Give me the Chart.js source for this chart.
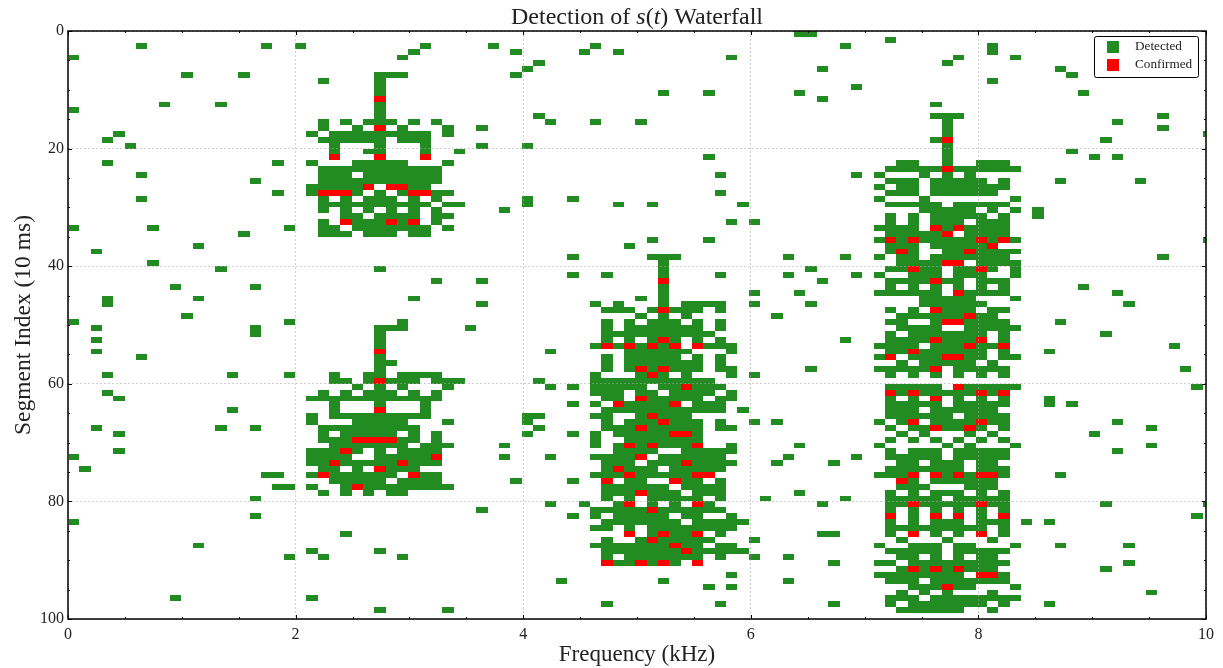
<!DOCTYPE html>
<html>
<head>
<meta charset="utf-8">
<title>Detection of s(t) Waterfall</title>
<script src="https://cdn.jsdelivr.net/npm/chart.js@4/dist/chart.umd.min.js"></script>
<style>
    html, body { margin: 0; padding: 0; background: #fff; }
    canvas { display: block; }
</style>
</head>
<body>
<canvas id="waterfall" width="1223" height="668"></canvas>
<script>
// frequency bin width in kHz
const binWidth = 0.0997;

const xTicks = [0, 2, 4, 6, 8, 10];
const xMinorTicks = [0.5, 1, 1.5, 2.5, 3, 3.5, 4.5, 5, 5.5, 6.5, 7, 7.5, 8.5, 9, 9.5];
const yTicks = [0, 20, 40, 60, 80, 100];
const yMinorTicks = [5, 10, 15, 25, 30, 35, 45, 50, 55, 65, 70, 75, 85, 90, 95];

// one line per segment, a number is one bin and [a, b] is a run of bins
const detectedRows = [
    [64, 65],
    [72],
    [6, 17, 20, 31, 37, 46, 68, 81],
    [30, 39, 45, 48, 81],
    [0, 29, 58, 78, 83],
    [41, 77],
    [40, 66, 87],
    [10, 15, [27, 29], 39, 88],
    [22, 27, 81],
    [27, 69],
    [27, 52, 56, 64, 89],
    [66],
    [8, 13, 27, 76],
    [0, 27],
    [27, 41, [76, 78], 96],
    [22, 24, [26, 28], 30, 32, 42, 46, 50, 77, 92],
    [22, 25, 29, 33, 36, 77, 96],
    [4, 21, [23, 31], 33, 77, 100],
    [3, [22, 27], [29, 31], 76, 91],
    [5, 23, 27, 31, 36, 40, 77],
    [23, [26, 27], 31, 34, 77, 88],
    [56, 77, 90, 92],
    [3, 18, 21, [25, 29], 33, [73, 74], 77, [80, 82]],
    [[22, 32], [72, 76], [78, 83]],
    [6, [22, 24], [26, 32], 57, 69, 71, 75, 77, 79],
    [16, [22, 32], [72, 74], [76, 80], 82, 87, 94],
    [[21, 25], [30, 31], 71, [73, 74], [76, 82]],
    [18, 21, 25, 27, 29, [32, 33], 57, [72, 74], [76, 81]],
    [6, 22, 24, [26, 28], 30, 32, 40, 44, 71, 75, 83],
    [[22, 31], [33, 34], 40, 48, 51, 59, [72, 76], [78, 82]],
    [22, 24, 26, 28, 30, 32, 38, [75, 79], 81, 83, 85],
    [[24, 25], [27, 30], [32, 33], 72, 74, [76, 80], 82, 85],
    [22, [25, 27], 29, 32, 58, 60, 72, 74, [76, 78], [80, 82]],
    [0, 7, 19, [22, 23], [25, 31], 33, [71, 74], 77, [79, 82]],
    [15, [22, 24], [26, 28], [30, 31], [72, 76], [79, 82]],
    [51, 56, 71, 73, [75, 79], 81, 83, 100],
    [11, 49, [72, 74], [76, 80]],
    [2, 72, 74, [77, 78], [80, 83]],
    [44, [51, 53], 63, 68, 71, [73, 74], [76, 82], 96],
    [7, 52, [73, 76], [80, 83]],
    [13, 27, 52, 65, [72, 73], [75, 76], [78, 79], 81, 83],
    [44, 47, 52, 57, 63, 69, 71, [74, 76], [78, 80], 83],
    [32, 36, 66, [72, 75], [77, 78], [80, 82]],
    [9, 16, 52, 72, 74, 76, 78, 80, 82, 89],
    [52, 60, 64, [71, 76], [79, 82], 92],
    [3, 11, 30, 50, 52, [75, 79], 83],
    [3, 36, 46, 48, 52, [54, 57], 60, 65, [75, 80], 93],
    [[47, 49], 51, [53, 55], 57, 72, 74, [77, 79], [81, 82]],
    [10, 50, 52, 54, 62, [73, 78], [80, 81]],
    [0, 19, 29, 47, 49, [51, 53], 55, 57, [72, 73], 76, [79, 82], 87],
    [2, 16, [27, 29], 35, 47, [49, 55], 57, [73, 76], [79, 83]],
    [16, 27, [47, 56], 72, [74, 80], 82, 91],
    [2, 27, 47, 49, 51, 53, 55, 57, 68, [72, 75], [77, 79], 82],
    [27, 46, 48, 50, 52, [56, 58], [71, 74], [76, 78], [80, 81], 97],
    [2, 42, [49, 54], 58, [72, 73], [75, 80], 82, 86],
    [6, 27, 47, [49, 53], 55, 57, 71, [74, 76], [79, 80], [82, 83]],
    [[27, 28], 47, [49, 55], 57, 73, [75, 79], 81],
    [27, 47, 49, 51, [53, 55], [57, 58], 65, [71, 75], [78, 82], 98],
    [3, 14, 19, 23, [26, 27], [29, 32], 46, 50, 52, 54, 58, 60, 72, 74, 76, 78, 80, 82],
    [[23, 24], 26, [28, 30], [32, 34], 41, [46, 56]],
    [25, 27, 29, 33, 42, 44, [46, 50], [52, 53], [55, 57], [72, 76], [79, 83], 99],
    [3, 22, 24, [26, 28], 30, 32, [46, 48], [50, 51], [53, 56], 58, 73, [75, 79], 81],
    [4, [21, 32], [47, 48], [51, 55], [57, 58], 72, 74, 78, 80, 82, 86],
    [23, 27, 31, 44, 46, [49, 52], [55, 57], [72, 76], [78, 82], 86, 88],
    [14, 23, 31, [47, 57], 59, [72, 74], [76, 81]],
    [21, [23, 31], [40, 41], [46, 47], 50, [52, 54], [72, 77], [79, 82]],
    [21, [25, 29], 33, 40, 47, [49, 51], [53, 55], 57, 60, 62, 71, 73, [76, 79], [81, 82], 92],
    [2, 13, 16, [22, 30], 41, [47, 49], [51, 55], [57, 58], 72, [74, 75], [77, 78], 80, 82, 95],
    [4, 22, [24, 28], 30, 32, 40, 44, 46, [48, 52], 55, 73, 75, 79, 81, 90],
    [[22, 24], [29, 30], 32, 46, [49, 55], 72, 74, 76, 78, 80, 82],
    [[23, 29], [31, 33], 38, 46, 48, 50, [52, 54], 58, 64, 71, 77, 79, 83, 95],
    [4, [21, 23], 25, 27, [29, 32], [48, 51], [54, 58], 72, [74, 76], [78, 82], 92],
    [0, [21, 24], [27, 31], 38, 42, [46, 49], [52, 57], 63, 69, [72, 76], [78, 82]],
    [[21, 22], [24, 28], [30, 32], [47, 49], [51, 53], [55, 58], 62, 67, [73, 74], [76, 78], [80, 81]],
    [1, [22, 23], 25, [28, 30], 47, [49, 51], [53, 57], [72, 78], [80, 82]],
    [[17, 18], 21, [23, 28], [31, 32], [46, 48], [50, 54], [71, 73], 77, 79, 82, 87],
    [[23, 27], [29, 32], 39, 44, [49, 50], [54, 55], 57, 74, [76, 81]],
    [[18, 19], 21, 24, [26, 33], [47, 52], [54, 57], [73, 75], [79, 81]],
    [22, 24, 26, [28, 29], [47, 49], [51, 53], [55, 57], 64, 72, 74, [76, 78], 80, 82],
    [16, 47, 49, [51, 55], 57, 61, 68, [72, 76], [78, 82]],
    [42, 45, 48, 51, 53, 56, 66, [72, 73], [75, 79], [81, 82], 91, 100],
    [36, [46, 50], [52, 57], 72, 74, 76, 78, 80, 82],
    [16, 44, 46, [48, 52], [54, 55], 58, 74, 80, 99],
    [0, [47, 53], [55, 59], 72, 74, [76, 78], [80, 82], 84, 86],
    [[46, 47], 49, [51, 58], [72, 80], 82],
    [24, 51, [53, 54], 57, [66, 67], 72, 76, 78, 82],
    [47, 50, [52, 56], 60, 73, 77, 81],
    [11, [46, 52], [54, 55], [57, 58], 71, [74, 76], [78, 79], 83, 87, 93],
    [21, 27, [47, 53], [55, 59], [72, 76], [78, 82]],
    [19, 22, 29, 47, [49, 55], 57, 60, 63, [73, 74], 76, 78, [80, 81]],
    [[48, 49], 51, 53, 67, [71, 72], [74, 82], 93],
    [73, 75, 77, [79, 81], 91],
    [58, [71, 78], 82],
    [43, 52, 63, [72, 74], [76, 82]],
    [56, 58, [74, 76], [78, 79], 83],
    [73, 75, 77, 81, 95],
    [9, 21, [72, 74], [76, 83]],
    [47, 57, 67, 72, [74, 80], 82, 86],
    [27, 33, [73, 78], 81],
    []
];

// [segment, bins]
const confirmedRows = [
    [11, [27]], [16, [27]], [18, [77]], [21, [23, 27, 31]], [23, [77]],
    [26, [26, 28, 29]], [27, [22, 23, 24, 30, 31]], [32, [24, 28, 30]],
    [33, [76, 78]], [34, [77]], [35, [72, 74, 80, 82]], [36, [81]],
    [37, [73, 79]], [39, [77, 78]], [40, [74, 80]], [42, [52, 76]],
    [44, [78]], [47, [52, 76]], [48, [79]], [49, [77, 78]],
    [52, [52, 76, 80]], [53, [47, 49, 51, 53, 55, 79, 82]], [54, [27, 74]],
    [55, [72, 77, 78]], [57, [50, 52, 76]], [58, [51]], [59, [27]],
    [60, [54, 78]], [61, [72, 74, 80, 82]], [62, [50, 76]], [63, [48, 53]],
    [64, [27]], [65, [51]], [66, [52, 74, 80]], [67, [50, 76, 79]],
    [68, [53, 54]], [69, [25, 26, 27, 28]], [70, [49, 51, 55]], [71, [24]],
    [72, [32, 50]], [73, [23, 29, 54]], [74, [27, 48]],
    [75, [22, 30, 49, 55, 56, 74, 76, 78, 80, 81]], [76, [47, 53, 73]],
    [77, [25]], [78, [50]], [80, [49, 55, 74, 80]], [81, [51]],
    [82, [72, 76, 78, 82]], [85, [49, 52, 55, 74, 80]], [86, [51]], [87, [53]],
    [88, [54]], [90, [47, 50, 52, 55]], [91, [74, 76, 78]], [92, [80, 81]], [94, [77]]
];

const serif = '"Liberation Serif", serif';

const toBars = (row, bins) => bins.map((b) => {
    const first = Array.isArray(b) ? b[0] : b;
    const last = Array.isArray(b) ? b[1] : b;
    return { y: row + 0.5, x: [first * binWidth, (last + 1) * binWidth] };
});

const detectedBars = detectedRows.flatMap((bins, row) => toBars(row, bins));
const confirmedBars = confirmedRows.flatMap(([row, bins]) => toBars(row, bins));

// the reference is a nearest-pixel image, so put the bar edges on whole pixels
const snapBars = {
    id: 'snapBars',
    afterDatasetsUpdate(chart) {
        chart.data.datasets.forEach((ds, i) => {
            for (const bar of chart.getDatasetMeta(i).data) {
                const top = Math.round(bar.y - bar.height / 2);
                const bottom = Math.round(bar.y + bar.height / 2);
                bar.y = (top + bottom) / 2;
                bar.height = bottom - top;
                bar.x = Math.round(bar.x);
                bar.base = Math.round(bar.base);
            }
        });
    }
};

// inward ticks on all four sides, frame, legend box and title
const decorations = {
    id: 'decorations',
    afterDraw(chart) {
        const { ctx, chartArea: area, scales: { x, y } } = chart;
        ctx.save();
        ctx.strokeStyle = '#000';
        ctx.lineWidth = 1;
        const line = (x0, y0, x1, y1) => {
            ctx.beginPath();
            ctx.moveTo(x0, y0);
            ctx.lineTo(x1, y1);
            ctx.stroke();
        };
        const ticksX = (values, len) => values.forEach((v) => {
            const px = Math.round(x.getPixelForValue(v)) + 0.5;
            line(px, area.bottom, px, area.bottom - len);
            line(px, area.top, px, area.top + len);
        });
        const ticksY = (values, len) => values.forEach((v) => {
            const py = Math.round(y.getPixelForValue(v)) + 0.5;
            line(area.left, py, area.left + len, py);
            line(area.right, py, area.right - len, py);
        });
        ticksX(xTicks, 4);
        ticksX(xMinorTicks, 2);
        ticksY(yTicks, 4);
        ticksY(yMinorTicks, 2);

        ctx.lineWidth = 1.5;
        ctx.strokeRect(area.left, area.top, area.right - area.left, area.bottom - area.top);

        // legend
        ctx.lineWidth = 1;
        ctx.fillStyle = '#fff';
        ctx.beginPath();
        ctx.roundRect(1094.5, 36.5, 104, 41, 2);
        ctx.fill();
        ctx.stroke();
        ctx.font = '13.2px ' + serif;
        ctx.textBaseline = 'middle';
        chart.data.datasets.forEach((ds, i) => {
            const rowY = 47 + i * 18;
            ctx.fillStyle = ds.backgroundColor;
            ctx.fillRect(1107, rowY - 6, 12, 12);
            ctx.fillStyle = '#222';
            ctx.fillText(ds.label, 1135, rowY);
        });

        // title, s and t are math italics
        const parts = [['Detection of ', ''], ['s', 'italic '], ['(', ''], ['t', 'italic '], [') Waterfall', '']];
        const titleFont = (style) => style + '24px ' + serif;
        let width = 0;
        for (const [text, style] of parts) {
            ctx.font = titleFont(style);
            width += ctx.measureText(text).width;
        }
        let cursor = (area.left + area.right) / 2 - width / 2;
        ctx.fillStyle = '#222';
        ctx.textBaseline = 'alphabetic';
        for (const [text, style] of parts) {
            ctx.font = titleFont(style);
            ctx.fillText(text, cursor, 24);
            cursor += ctx.measureText(text).width;
        }
        ctx.restore();
    }
};

new Chart(document.getElementById('waterfall'), {
    type: 'bar',
    data: {
        datasets: [
            { label: 'Detected', data: detectedBars, backgroundColor: '#228b22', order: 2 },
            { label: 'Confirmed', data: confirmedBars, backgroundColor: '#ff0000', order: 1 }
        ]
    },
    plugins: [snapBars, decorations],
    options: {
        indexAxis: 'y',
        responsive: false,
        animation: false,
        grouped: false,
        barPercentage: 1,
        categoryPercentage: 1,
        inflateAmount: 0,
        borderWidth: 0,
        layout: { padding: { left: 0, top: 31, right: 17, bottom: 0 } },
        plugins: {
            legend: { display: false },
            tooltip: { enabled: false }
        },
        scales: {
            x: {
                type: 'linear',
                min: 0,
                max: 10,
                afterBuildTicks: (scale) => { scale.ticks = xTicks.map((value) => ({ value })); },
                afterFit: (scale) => { scale.height = 49; },
                grid: { z: 1, color: 'rgba(170,170,170,0.55)', lineWidth: 1, drawTicks: false },
                border: { display: false, dash: [2, 2] },
                ticks: { color: '#222', padding: 6, maxRotation: 0, font: { family: serif, size: 16 } },
                title: { display: true, text: 'Frequency (kHz)', color: '#222', padding: { top: 0, bottom: -1 }, font: { family: serif, size: 23 } }
            },
            y: {
                type: 'linear',
                min: 0,
                max: 100,
                reverse: true,
                offset: false,
                afterBuildTicks: (scale) => { scale.ticks = yTicks.map((value) => ({ value })); },
                afterFit: (scale) => { scale.width = 68; },
                grid: { z: 1, offset: false, color: 'rgba(170,170,170,0.55)', lineWidth: 1, drawTicks: false },
                border: { display: false, dash: [2, 2] },
                ticks: { color: '#222', padding: 4, font: { family: serif, size: 16 } },
                title: { display: true, text: 'Segment Index (10 ms)', color: '#222', padding: { top: 10, bottom: 0 }, font: { family: serif, size: 23.5 } }
            }
        }
    }
});
</script>
</body>
</html>
